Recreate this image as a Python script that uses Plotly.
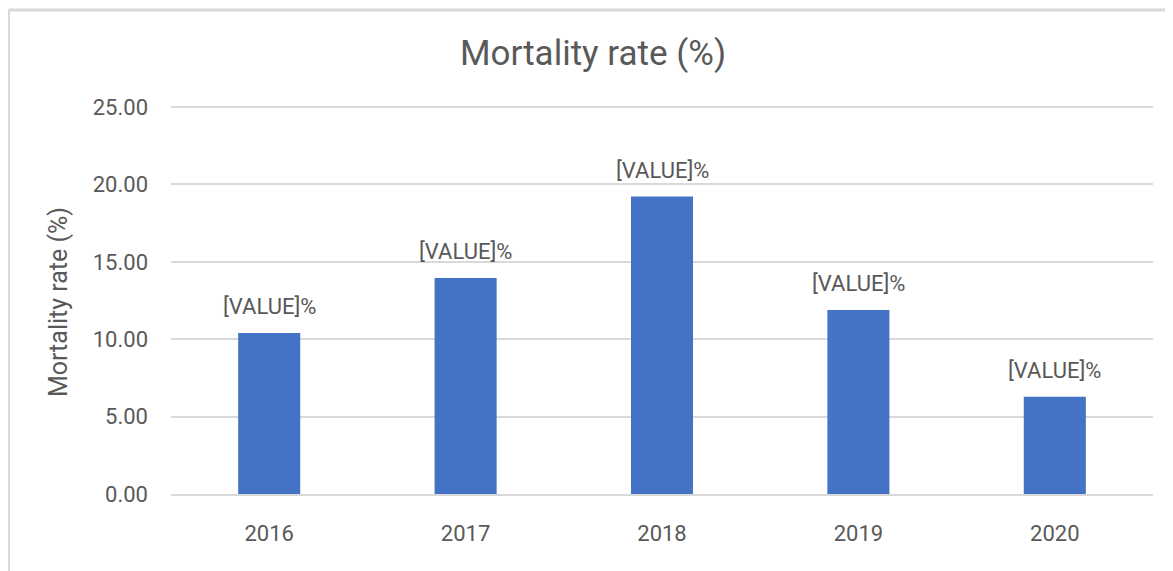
import plotly.graph_objects as go

years = ["2016", "2017", "2018", "2019", "2020"]
mortality = [10.41, 13.96, 19.22, 11.89, 6.29]
label_text = ["[VALUE]%"] * len(years)
y_ticks = [0, 5, 10, 15, 20, 25]
y_tick_labels = ["0.00", "5.00", "10.00", "15.00", "20.00", "25.00"]

FONT = "Roboto"
TXT = "#595959"
GRID = "#D9D9D9"

# page body has an 8px margin; figure placed at (8, 8)
W, H = 1165, 563
YMAX = 25.2
PXU = 387 / 25.0
PH = YMAX * PXU
L, R, B = 163, 20, 77
T = H - B - PH
PW = W - L - R

fig = go.Figure()
fig.add_trace(go.Bar(
    x=years, y=mortality,
    marker=dict(color="#4472C4", line=dict(width=0)),
    hoverinfo="x+y",
))

for i, (v, t) in enumerate(zip(mortality, label_text)):
    fig.add_annotation(x=i, y=v, xref="x", yref="y", text=t, showarrow=False,
                       yanchor="bottom", yshift=12,
                       font=dict(family=FONT, size=22, color=TXT))

fig.add_annotation(xref="paper", yref="paper", x=(50 - L) / PW, y=(PH - (302 - 8 - T)) / PH,
                   text="Mortality rate (%)", textangle=-90, showarrow=False,
                   xanchor="center", yanchor="middle",
                   font=dict(family=FONT, size=25, color=TXT))

# chart-area border (left and top)
bx = (0.5 - L) / PW
by = (T + PH - 2) / PH
fig.add_shape(type="line", xref="paper", yref="paper",
              x0=bx, x1=bx, y0=-0.3, y1=by, line=dict(color=GRID, width=3))
fig.add_shape(type="line", xref="paper", yref="paper",
              x0=bx, x1=1.05, y0=by, y1=by, line=dict(color=GRID, width=3))

fig.update_layout(
    width=W, height=H,
    margin=dict(l=L, r=R, t=T, b=B),
    paper_bgcolor="white", plot_bgcolor="white",
    bargap=0.684,
    showlegend=False,
    title=dict(text="Mortality rate (%)", x=585 / W, xref="container",
               xanchor="center", y=1 - 45 / H, yanchor="middle",
               font=dict(family=FONT, size=35, color=TXT)),
    font=dict(family=FONT, color=TXT),
)
fig.update_yaxes(range=[0, YMAX], tickvals=y_ticks, ticktext=y_tick_labels,
                 showgrid=True, gridcolor=GRID, gridwidth=2, zeroline=False,
                 showline=False, ticks="", ticklabelstandoff=22,
                 tickfont=dict(family=FONT, size=22, color=TXT))
fig.update_xaxes(type="category", showgrid=False, showline=True,
                 linecolor=GRID, linewidth=2, ticks="", ticklabelstandoff=19,
                 tickfont=dict(family=FONT, size=22, color=TXT))

fig.write_html("out.html")
